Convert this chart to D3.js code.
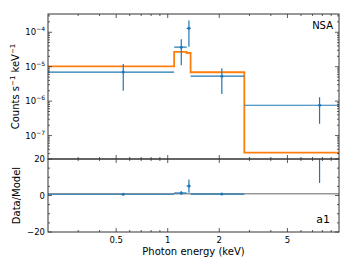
<!DOCTYPE html>
<html>
<head>
<meta charset="utf-8">
<script src="https://cdn.jsdelivr.net/npm/d3@7"></script>
<style>
  body { margin: 0; background: #fff; }
  svg { font-family: "DejaVu Sans", sans-serif; }
</style>
</head>
<body>
<svg width="353" height="265"></svg>
<script>
// bins in keV
var binLo = [0.2, 1.09, 1.29, 1.36, 2.8];
var binHi = [1.09, 1.29, 1.36, 2.8, 10];
var dataE = [0.55, 1.2, 1.33, 2.07, 7.7];
var dataRate = [7.0e-6, 3.7e-5, 1.3e-4, 5.3e-6, 7.6e-7];
var rateLo = [2.0e-6, 1.1e-5, 3.8e-5, 1.6e-6, 2.2e-7];
var rateHi = [1.2e-5, 6.3e-5, 2.2e-4, 9.0e-6, 1.3e-6];
var modelRate = [1.02e-5, 2.7e-5, 2.5e-5, 6.9e-6, 3.2e-8];

var xTickLabels = [0.5, 1, 2, 5];
var yDecades = [-7, -6, -5, -4];
var ratioTicks = [-20, 0, 20];

var svg = d3.select("svg");
var pLeft = 48, pRight = 339, pTop = 14, pMid = 159, pBottom = 232;
var blue = "#1f77b4", orange = "#ff7f0e", spine = "#333";

var x = d3.scaleLog().domain([0.2, 10]).range([pLeft, pRight]);
var y = d3.scaleLog().domain([Math.pow(10, -7.68), Math.pow(10, -3.47)]).range([pMid, pTop]);
var yr = d3.scaleLinear().domain([-20, 20]).range([pBottom, pMid]);

var defs = svg.append("defs");
defs.append("clipPath").attr("id", "cTop").append("rect")
    .attr("x", pLeft).attr("y", pTop).attr("width", pRight - pLeft).attr("height", pMid - pTop);
defs.append("clipPath").attr("id", "cBot").append("rect")
    .attr("x", pLeft).attr("y", pMid).attr("width", pRight - pLeft).attr("height", pBottom - pMid);

// ---- top panel ----
var gt = svg.append("g").attr("clip-path", "url(#cTop)");

// model step line
var stepPts = [];
modelRate.forEach(function(m, i) {
  stepPts.push([binLo[i], m]);
  stepPts.push([binHi[i], m]);
});
gt.append("path")
  .attr("d", d3.line().x(function(d) { return x(d[0]); }).y(function(d) { return y(d[1]); })(stepPts))
  .attr("fill", "none").attr("stroke", orange).attr("stroke-width", 1.8);

dataRate.forEach(function(v, i) {
  gt.append("line").attr("x1", x(binLo[i])).attr("x2", x(binHi[i]))
    .attr("y1", y(v)).attr("y2", y(v)).attr("stroke", blue).attr("stroke-width", 1.2);
  gt.append("line").attr("x1", x(dataE[i])).attr("x2", x(dataE[i]))
    .attr("y1", y(rateLo[i])).attr("y2", y(rateHi[i])).attr("stroke", blue).attr("stroke-width", 1.2);
  gt.append("circle").attr("cx", x(dataE[i])).attr("cy", y(v)).attr("r", 1.5).attr("fill", blue);
});

// ---- bottom panel ----
var gb = svg.append("g").attr("clip-path", "url(#cBot)");
gb.append("line").attr("x1", pLeft).attr("x2", pRight).attr("y1", yr(1)).attr("y2", yr(1))
  .attr("stroke", "#999").attr("stroke-width", 1.5);

dataRate.forEach(function(v, i) {
  var r = v / modelRate[i];
  gb.append("line").attr("x1", x(binLo[i])).attr("x2", x(binHi[i]))
    .attr("y1", yr(r)).attr("y2", yr(r)).attr("stroke", blue).attr("stroke-width", 1.2);
  gb.append("line").attr("x1", x(dataE[i])).attr("x2", x(dataE[i]))
    .attr("y1", yr(rateLo[i] / modelRate[i])).attr("y2", yr(rateHi[i] / modelRate[i]))
    .attr("stroke", blue).attr("stroke-width", 1.2);
  gb.append("circle").attr("cx", x(dataE[i])).attr("cy", yr(r)).attr("r", 1.5).attr("fill", blue);
});

// ---- ticks (inward, all sides) ----
var ticks = svg.append("g").attr("stroke", spine).attr("stroke-width", 0.8);
var xMinor = [];
[0.1, 1].forEach(function(dec) {
  for (var k = 1; k < 10; k++) { var v = k * dec; if (v > 0.2 && v < 10) xMinor.push(v); }
});
xMinor.forEach(function(v) {
  var len = xTickLabels.indexOf(+v.toFixed(2)) >= 0 ? 4 : 2;
  var px = x(v);
  [[pTop, 1], [pMid, -1], [pMid, 1], [pBottom, -1]].forEach(function(s) {
    ticks.append("line").attr("x1", px).attr("x2", px).attr("y1", s[0]).attr("y2", s[0] + s[1] * len);
  });
});

for (var d = -8; d <= -3; d++) {
  for (var k = 1; k < 10; k++) {
    var v = k * Math.pow(10, d);
    var py = y(v);
    if (py < pTop || py > pMid) continue;
    var len = k === 1 ? 4 : 2;
    ticks.append("line").attr("x1", pLeft).attr("x2", pLeft + len).attr("y1", py).attr("y2", py);
    ticks.append("line").attr("x1", pRight).attr("x2", pRight - len).attr("y1", py).attr("y2", py);
  }
}
for (var t = -20; t <= 20; t += 5) {
  var len2 = t % 20 === 0 ? 4 : 2;
  ticks.append("line").attr("x1", pLeft).attr("x2", pLeft + len2).attr("y1", yr(t)).attr("y2", yr(t));
  ticks.append("line").attr("x1", pRight).attr("x2", pRight - len2).attr("y1", yr(t)).attr("y2", yr(t));
}

// frames
svg.append("rect").attr("x", pLeft).attr("y", pTop).attr("width", pRight - pLeft).attr("height", pMid - pTop)
  .attr("fill", "none").attr("stroke", spine).attr("stroke-width", 1);
svg.append("rect").attr("x", pLeft).attr("y", pMid).attr("width", pRight - pLeft).attr("height", pBottom - pMid)
  .attr("fill", "none").attr("stroke", spine).attr("stroke-width", 1);

// ---- labels ----
var lab = svg.append("g").attr("fill", "#000").attr("font-size", 8.5);
yDecades.forEach(function(dd) {
  var t = lab.append("text").attr("x", 45).attr("y", y(Math.pow(10, dd)) + 3).attr("text-anchor", "end");
  t.append("tspan").text("10");
  t.append("tspan").attr("dy", -4).attr("font-size", 6).text("\u2212" + (-dd));
});
ratioTicks.forEach(function(t) {
  lab.append("text").attr("x", 45).attr("y", yr(t) + 3).attr("text-anchor", "end")
    .text(t < 0 ? "\u2212" + (-t) : t);
});
xTickLabels.forEach(function(v) {
  lab.append("text").attr("x", x(v)).attr("y", 243).attr("text-anchor", "middle").text(v);
});

svg.append("text").attr("x", (pLeft + pRight) / 2).attr("y", 255).attr("text-anchor", "middle")
  .attr("font-size", 10).text("Photon energy (keV)");

var yl = svg.append("text").attr("transform", "translate(19," + ((pTop + pMid) / 2) + ") rotate(-90)")
  .attr("text-anchor", "middle").attr("font-size", 10);
yl.append("tspan").text("Counts s");
yl.append("tspan").attr("dy", -4).attr("font-size", 7).text("\u22121");
yl.append("tspan").attr("dy", 4).text(" keV");
yl.append("tspan").attr("dy", -4).attr("font-size", 7).text("\u22121");

svg.append("text").attr("transform", "translate(19.5," + ((pMid + pBottom) / 2) + ") rotate(-90)")
  .attr("text-anchor", "middle").attr("font-size", 10).text("Data/Model");

svg.append("text").attr("x", 333).attr("y", 29).attr("text-anchor", "end")
  .attr("font-size", 10).text("NSA");
svg.append("text").attr("x", 330).attr("y", 223).attr("text-anchor", "end")
  .attr("font-size", 11).text("a1");
</script>
</body>
</html>
